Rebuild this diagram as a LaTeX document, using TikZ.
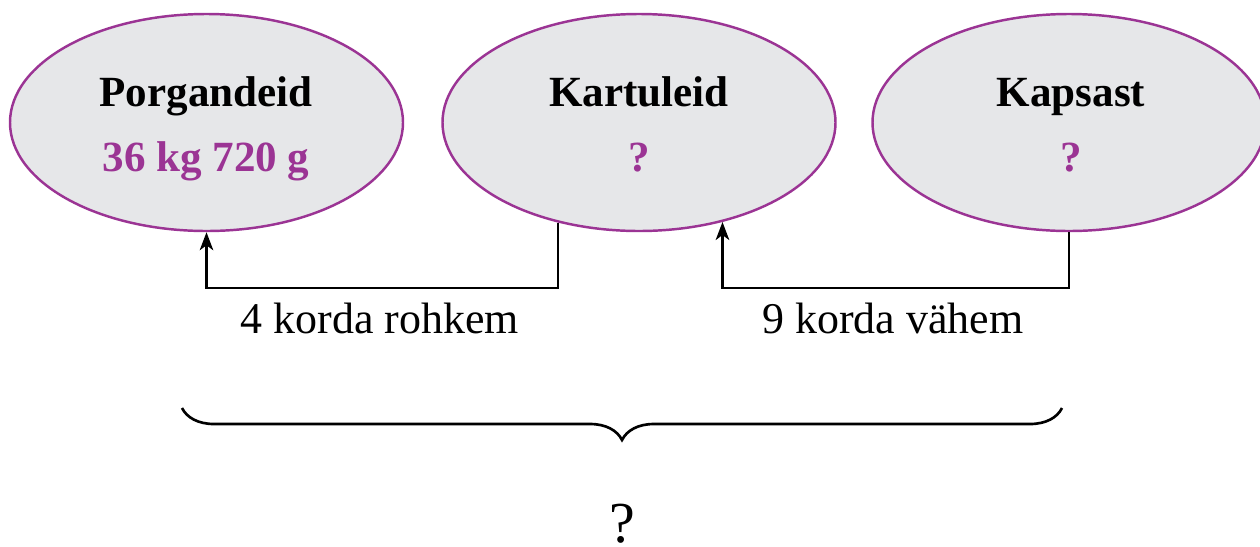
\documentclass[tikz,border=0pt]{standalone}
\usepackage{fontspec}
\setmainfont{Liberation Serif}
\usetikzlibrary{shapes.geometric,arrows.meta,decorations.pathreplacing}
\definecolor{rim}{RGB}{155,52,148}
\definecolor{egg}{RGB}{230,231,233}
\tikzset{
  veg/.style={draw=rim,line width=1.4pt,fill=egg,ellipse,minimum width=7.86cm,minimum height=4.34cm},
  title/.style={font=\fontsize{24.5}{28}\selectfont\bfseries,text=black,anchor=base},
  amount/.style={font=\fontsize{24.5}{28}\selectfont\bfseries,text=rim,anchor=base},
  link/.style={line width=1.5pt,-{Stealth[length=0.36cm,width=0.27cm,inset=0.1cm]}},
  say/.style={font=\fontsize{25}{28}\selectfont,anchor=base}
}
\begin{document}
\begin{tikzpicture}[x=0.2mm,y=-0.2mm]
        \useasboundingbox (0,0) rectangle (1260,546);
        %% Ellipses
        \node[veg] (P) at (206.5,122.5) {};
        \node[veg] (K) at (639,122.5) {};
        \node[veg] (S) at (1069,122.5) {};
        %% Texts
        \node[title] (Pt) at (206,106) {Porgandeid};
        \node[amount] (Pa) at (206,171) {36 kg 720 g};
        \node[title] (Kt) at (639,106) {Kartuleid};
        \node[amount] (Ka) at (639,171) {?};
        \node[title] (St) at (1071,106) {Kapsast};
        \node[amount] (Sa) at (1071,171) {?};
        %% Connectors
        \coordinate (k1) at (557,288);
        \draw[link] (K.-129.75) |- (P.south |- k1) -- (P.south);
        \draw[link] (S.south) |- (K.-50.7 |- k1) -- (K.-50.7);
        \node[say] (r1) at (380,333) {4 korda rohkem};
        \node[say] (r2) at (893,333) {9 korda vähem};
        %% Brace
        \coordinate (b1) at (182,408);
        \coordinate (b2) at (1062,408);
        \draw[line width=1.5pt,decorate,decoration={brace,mirror,amplitude=0.64cm}] (b1) -- (b2);
        \node[font=\fontsize{33}{38}\selectfont,anchor=base,inner sep=0pt] (sum) at (622,542) {?};
    \end{tikzpicture}
\end{document}
